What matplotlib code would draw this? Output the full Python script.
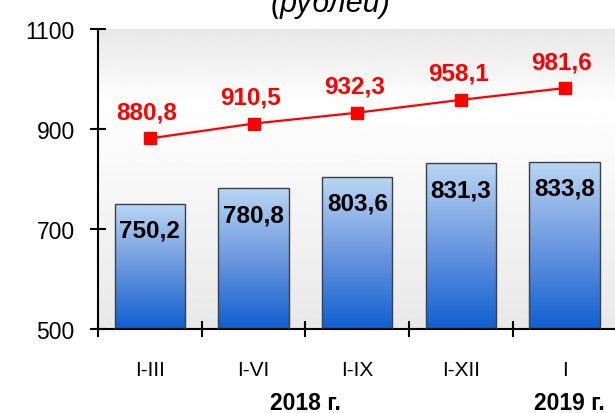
import numpy as np
import matplotlib
matplotlib.use('Agg')
import matplotlib.pyplot as plt
from matplotlib.colors import LinearSegmentedColormap
from matplotlib.transforms import blended_transform_factory

plt.rcParams['font.family'] = ['Liberation Sans', 'DejaVu Sans']

# данные
periods = ['I-III', 'I-VI', 'I-IX', 'I-XII', 'I']
bar_values = [750.2, 780.8, 803.6, 831.3, 833.8]
line_values = [880.8, 910.5, 932.3, 958.1, 981.6]
year_labels = ['2018 г.', '2019 г.']
year_positions = [1.5, 4.05]
y_ticks = [500, 700, 900, 1100]


def fmt(v):
    return f"{v:.1f}".replace('.', ',')


fig = plt.figure(figsize=(6.15, 4.14), dpi=100)
ax = fig.add_axes([0.1593, 0.2041, 0.843, 0.7234])

x = np.arange(len(periods))
ax.set_xlim(-0.5, 4.5)
ax.set_ylim(500, 1100)

# фон области построения (серый - белый - серый)
g = np.interp(np.linspace(1100, 500, 200), [500, 950, 1100], [0.91, 1.0, 0.91])
ax.imshow(g[:, None], cmap='gray', vmin=0, vmax=1, aspect='auto',
          extent=(-0.5, 4.5, 500, 1100), zorder=0)

# столбцы с градиентом
bar_cmap = LinearSegmentedColormap.from_list('b', ['#0f5fd0', '#6c98df', '#b9d6f3'])
bars = ax.bar(x, [v - 500 for v in bar_values], bottom=500, width=0.68,
              facecolor='none', edgecolor='#3a3f48', linewidth=1.0, zorder=3)
grad = np.linspace(0, 1, 256)[:, None]
for b in bars:
    x0, y0 = b.get_x(), b.get_y()
    im = ax.imshow(grad, cmap=bar_cmap, origin='lower', aspect='auto',
                   extent=(x0, x0 + b.get_width(), y0, y0 + b.get_height()), zorder=2)
    im.set_clip_path(b)

for xi, v in zip(x, bar_values):
    ax.annotate(fmt(v), (xi, v), xytext=(0, -19), textcoords='offset points',
                ha='center', va='center', fontsize=17.5, fontweight='bold',
                color='black', zorder=5)

# линия
ax.plot(x, line_values, color='#ff0000', linewidth=1.6, marker='s',
        markersize=8.5, zorder=4)
for xi, v in zip(x, line_values):
    ax.annotate(fmt(v), (xi, v), xytext=(-2, 19), textcoords='offset points',
                ha='center', va='center', fontsize=17.5, fontweight='bold',
                color='#ff0000', zorder=5)

# оси
for s in ['top', 'right']:
    ax.spines[s].set_visible(False)
for s in ['left', 'bottom']:
    ax.spines[s].set_linewidth(1.5)
    ax.spines[s].set_color('black')

ax.set_yticks(y_ticks)
ax.tick_params(axis='y', direction='inout', length=11.5, width=1.5,
               labelsize=16.5, pad=11)
ax.set_xticks(x)
ax.set_xticklabels(periods)
ax.set_xticks(np.arange(-0.5, 4.5, 1.0), minor=True)
ax.tick_params(axis='x', which='major', length=0, labelsize=15, pad=23)
ax.tick_params(axis='x', which='minor', direction='inout', length=11.5, width=1.5)

trans = blended_transform_factory(ax.transData, fig.transFigure)
for xp, lab in zip(year_positions, year_labels):
    ax.text(xp, 1 - 404 / 414, lab, transform=trans, ha='center', va='center',
            fontsize=16.5, fontweight='bold', clip_on=False)

fig.text(331 / 615, 1 - 12 / 414, '(рублей)', ha='center', va='baseline',
         fontsize=22, style='italic')

fig.savefig('out.png', dpi=100)
